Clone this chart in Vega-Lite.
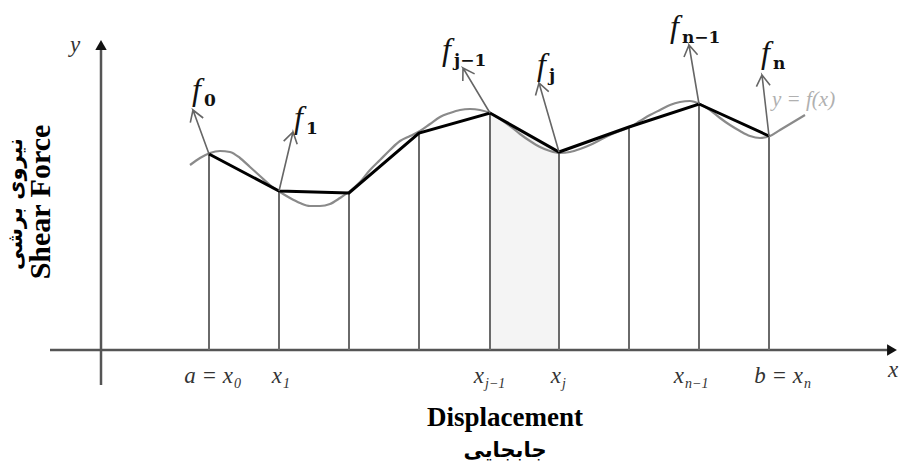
{
  "$schema": "https://vega.github.io/schema/vega-lite/v6.json",
  "width": 906,
  "height": 467,
  "autosize": "none",
  "padding": 0,
  "background": "white",
  "config": {"view": {"stroke": null}},
  "datasets": {
    "knots": [
      {"X": 108, "Y": 196}, {"X": 178, "Y": 159}, {"X": 248, "Y": 157},
      {"X": 318, "Y": 217}, {"X": 389, "Y": 237}, {"X": 458, "Y": 198},
      {"X": 528, "Y": 223}, {"X": 598, "Y": 246}, {"X": 668, "Y": 214}
    ],
    "curve": [
      {"X": 89, "Y": 185}, {"X": 99, "Y": 192}, {"X": 109, "Y": 197}, {"X": 119, "Y": 199},
      {"X": 129, "Y": 198}, {"X": 139, "Y": 192}, {"X": 149, "Y": 183}, {"X": 159, "Y": 174},
      {"X": 169, "Y": 165}, {"X": 179, "Y": 158}, {"X": 189, "Y": 152}, {"X": 199, "Y": 147},
      {"X": 209, "Y": 144}, {"X": 219, "Y": 144}, {"X": 229, "Y": 146}, {"X": 239, "Y": 152},
      {"X": 249, "Y": 159}, {"X": 259, "Y": 168}, {"X": 269, "Y": 180}, {"X": 279, "Y": 190},
      {"X": 289, "Y": 200}, {"X": 299, "Y": 209}, {"X": 309, "Y": 214}, {"X": 319, "Y": 219},
      {"X": 329, "Y": 226}, {"X": 339, "Y": 233}, {"X": 349, "Y": 237}, {"X": 359, "Y": 240},
      {"X": 369, "Y": 241}, {"X": 379, "Y": 240}, {"X": 389, "Y": 237}, {"X": 399, "Y": 231},
      {"X": 409, "Y": 224}, {"X": 419, "Y": 216}, {"X": 429, "Y": 209}, {"X": 439, "Y": 203},
      {"X": 449, "Y": 199}, {"X": 459, "Y": 197}, {"X": 469, "Y": 198}, {"X": 479, "Y": 201},
      {"X": 489, "Y": 205}, {"X": 499, "Y": 210}, {"X": 509, "Y": 215}, {"X": 519, "Y": 219},
      {"X": 529, "Y": 223}, {"X": 539, "Y": 229}, {"X": 549, "Y": 235}, {"X": 559, "Y": 240},
      {"X": 569, "Y": 245}, {"X": 579, "Y": 248}, {"X": 589, "Y": 249}, {"X": 599, "Y": 246},
      {"X": 609, "Y": 240}, {"X": 619, "Y": 232}, {"X": 629, "Y": 225}, {"X": 639, "Y": 219},
      {"X": 649, "Y": 214}, {"X": 659, "Y": 212}, {"X": 669, "Y": 214}, {"X": 679, "Y": 220},
      {"X": 689, "Y": 226}, {"X": 699, "Y": 232}, {"X": 704, "Y": 235}
    ],
    "arrows": [
      {"id": "f0", "k": 0, "X": 108, "Y": 196}, {"id": "f0", "k": 1, "X": 92, "Y": 240},
      {"id": "f0", "k": 2, "X": 102.2, "Y": 232.0}, {"id": "f0", "k": 3, "X": 92, "Y": 240},
      {"id": "f0", "k": 4, "X": 89.3, "Y": 227.3},
      {"id": "f1", "k": 0, "X": 178, "Y": 159}, {"id": "f1", "k": 1, "X": 192, "Y": 218},
      {"id": "f1", "k": 2, "X": 196.2, "Y": 205.7}, {"id": "f1", "k": 3, "X": 192, "Y": 218},
      {"id": "f1", "k": 4, "X": 182.7, "Y": 208.9},
      {"id": "fj1", "k": 0, "X": 389, "Y": 237}, {"id": "fj1", "k": 1, "X": 362, "Y": 282},
      {"id": "fj1", "k": 2, "X": 373.6, "Y": 276.1}, {"id": "fj1", "k": 3, "X": 362, "Y": 282},
      {"id": "fj1", "k": 4, "X": 361.8, "Y": 269.0},
      {"id": "fj", "k": 0, "X": 458, "Y": 198}, {"id": "fj", "k": 1, "X": 438, "Y": 267},
      {"id": "fj", "k": 2, "X": 447.7, "Y": 258.3}, {"id": "fj", "k": 3, "X": 438, "Y": 267},
      {"id": "fj", "k": 4, "X": 434.5, "Y": 254.5},
      {"id": "fn1", "k": 0, "X": 598, "Y": 246}, {"id": "fn1", "k": 1, "X": 588, "Y": 305},
      {"id": "fn1", "k": 2, "X": 596.6, "Y": 295.3}, {"id": "fn1", "k": 3, "X": 588, "Y": 305},
      {"id": "fn1", "k": 4, "X": 583.0, "Y": 293.0},
      {"id": "fn", "k": 0, "X": 668, "Y": 214}, {"id": "fn", "k": 1, "X": 661, "Y": 275},
      {"id": "fn", "k": 2, "X": 669.1, "Y": 264.8}, {"id": "fn", "k": 3, "X": 661, "Y": 275},
      {"id": "fn", "k": 4, "X": 655.4, "Y": 263.3}
    ],
    "axes": [
      {"id": "x", "k": 0, "X": -51, "Y": 0}, {"id": "x", "k": 1, "X": 788, "Y": 0},
      {"id": "y", "k": 0, "X": 0, "Y": -35}, {"id": "y", "k": 1, "X": 0, "Y": 303}
    ],
    "heads": [
      {"X": 791, "Y": 0, "dir": "right"},
      {"X": 0, "Y": 305, "dir": "up"}
    ],
    "xlabels": [
      {"X": 132, "Y": -33, "base": "a = x", "sub": "0"},
      {"X": 181, "Y": -33, "base": "x", "sub": "1"},
      {"X": 383, "Y": -33, "base": "x", "sub": "j−1"},
      {"X": 460, "Y": -33, "base": "x", "sub": "j"},
      {"X": 583, "Y": -33, "base": "x", "sub": "n−1"},
      {"X": 702, "Y": -33, "base": "b = x", "sub": "n"}
    ],
    "flabels": [
      {"X": 99, "Y": 250, "base": "f", "sub": "0"},
      {"X": 201, "Y": 222, "base": "f", "sub": "1"},
      {"X": 349, "Y": 290, "base": "f", "sub": "j−1"},
      {"X": 444, "Y": 275, "base": "f", "sub": "j"},
      {"X": 577, "Y": 313, "base": "f", "sub": "n−1"},
      {"X": 668, "Y": 287, "base": "f", "sub": "n"}
    ]
  },
  "encoding": {
    "x": {"field": "X", "type": "quantitative", "axis": null, "scale": {"domain": [-101, 805], "nice": false, "zero": false}},
    "y": {"field": "Y", "type": "quantitative", "axis": null, "scale": {"domain": [-117, 350], "nice": false, "zero": false}}
  },
  "layer": [
    {
      "data": {"name": "knots"},
      "transform": [{"filter": "datum.X >= 389 && datum.X <= 458"}],
      "mark": {"type": "area", "color": "#f4f4f4"},
      "encoding": {"y2": {"datum": 0}}
    },
    {
      "data": {"name": "axes"},
      "mark": {"type": "line", "color": "#555555", "strokeWidth": 2.5},
      "encoding": {"detail": {"field": "id"}, "order": {"field": "k"}}
    },
    {
      "data": {"name": "heads"},
      "mark": {"type": "point", "filled": true, "color": "#111111", "size": 130, "opacity": 1},
      "encoding": {
        "shape": {"field": "dir", "type": "nominal", "legend": null,
                  "scale": {"domain": ["right", "up"], "range": ["triangle-right", "triangle-up"]}}
      }
    },
    {
      "data": {"name": "knots"},
      "mark": {"type": "rule", "color": "#6a6a6a", "strokeWidth": 2},
      "encoding": {"y2": {"datum": 0}}
    },
    {
      "data": {"name": "curve"},
      "mark": {"type": "line", "color": "#8a8a8a", "strokeWidth": 2.2, "interpolate": "monotone"},
      "encoding": {}
    },
    {
      "data": {"name": "knots"},
      "mark": {"type": "line", "color": "#000000", "strokeWidth": 3},
      "encoding": {}
    },
    {
      "data": {"name": "arrows"},
      "mark": {"type": "line", "color": "#666666", "strokeWidth": 1.6, "strokeJoin": "miter"},
      "encoding": {"detail": {"field": "id"}, "order": {"field": "k"}}
    },
    {
      "data": {"name": "flabels"},
      "mark": {"type": "text", "align": "right", "baseline": "alphabetic", "font": "Liberation Serif", "fontStyle": "italic", "fontSize": 32, "color": "#111111", "dx": 1},
      "encoding": {"text": {"field": "base"}}
    },
    {
      "data": {"name": "flabels"},
      "mark": {"type": "text", "align": "left", "baseline": "alphabetic", "font": "DejaVu Serif", "fontWeight": "bold", "fontSize": 17, "color": "#111111", "dx": 4, "dy": 6},
      "encoding": {"text": {"field": "sub"}}
    },
    {
      "data": {"name": "xlabels"},
      "mark": {"type": "text", "align": "right", "baseline": "alphabetic", "font": "Liberation Serif", "fontStyle": "italic", "fontSize": 23, "color": "#333333"},
      "encoding": {"text": {"field": "base"}}
    },
    {
      "data": {"name": "xlabels"},
      "mark": {"type": "text", "align": "left", "baseline": "alphabetic", "font": "Liberation Serif", "fontStyle": "italic", "fontSize": 14, "color": "#333333", "dx": 1, "dy": 5},
      "encoding": {"text": {"field": "sub"}}
    },
    {
      "data": {"values": [{"X": 792, "Y": -20, "t": "x"}, {"X": -26, "Y": 305, "t": "y"}]},
      "mark": {"type": "text", "align": "center", "baseline": "middle", "font": "Liberation Serif", "fontStyle": "italic", "fontSize": 23, "color": "#333333"},
      "encoding": {"text": {"field": "t"}}
    },
    {
      "data": {"values": [{"X": 671, "Y": 250, "t": "y = f(x)"}]},
      "mark": {"type": "text", "align": "left", "baseline": "middle", "font": "Liberation Serif", "fontStyle": "italic", "fontSize": 21, "color": "#b0b0b0"},
      "encoding": {"text": {"field": "t"}}
    },
    {
      "data": {"values": [{"X": 404, "Y": -68, "t": "Displacement"}]},
      "mark": {"type": "text", "align": "center", "baseline": "middle", "font": "Liberation Serif", "fontWeight": "bold", "fontSize": 27, "color": "#000000"},
      "encoding": {"text": {"field": "t"}}
    },
    {
      "data": {"values": [{"X": 404, "Y": -101, "t": "جابجایی"}]},
      "mark": {"type": "text", "align": "center", "baseline": "middle", "font": "DejaVu Sans", "fontWeight": "bold", "fontSize": 21, "color": "#000000"},
      "encoding": {"text": {"field": "t"}}
    },
    {
      "data": {"values": [{"X": -60, "Y": 148, "t": "Shear Force"}]},
      "mark": {"type": "text", "align": "center", "baseline": "middle", "angle": 270, "font": "Liberation Serif", "fontWeight": "bold", "fontSize": 30, "color": "#000000"},
      "encoding": {"text": {"field": "t"}}
    },
    {
      "data": {"values": [{"X": -85, "Y": 146, "t": "نیروی برشی"}]},
      "mark": {"type": "text", "align": "center", "baseline": "middle", "angle": 270, "font": "DejaVu Sans", "fontWeight": "bold", "fontSize": 21, "color": "#000000"},
      "encoding": {"text": {"field": "t"}}
    }
  ]
}
